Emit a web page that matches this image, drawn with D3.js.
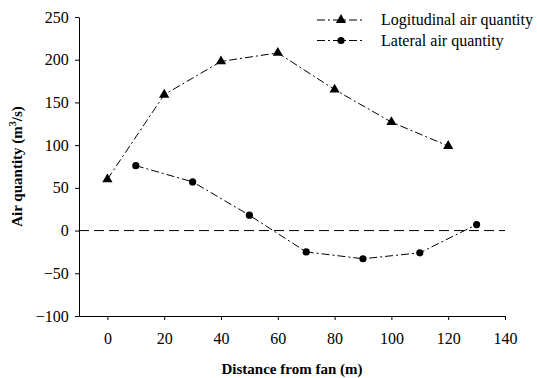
<!DOCTYPE html>
<html>
<head>
<meta charset="utf-8">
<script src="https://cdn.jsdelivr.net/npm/d3@7"></script>
<style>
  body { margin: 0; background: #fff; }
  svg text { font-family: "Times New Roman", "Liberation Serif", "DejaVu Serif", serif !important; fill: #000; }
</style>
</head>
<body>
<svg id="chart" width="537" height="378"></svg>
<script>
// data
var longX = [0, 20, 40, 60, 80, 100, 120];
var longY = [60, 159, 198, 208, 165, 127, 99];
var latX = [10, 30, 50, 70, 90, 110, 130];
var latY = [76, 57, 18, -25, -33, -26, 7];
var xTicks = [0, 20, 40, 60, 80, 100, 120, 140];
var yTicks = [-100, -50, 0, 50, 100, 150, 200, 250];
var seriesNames = ['Logitudinal air quantity', 'Lateral air quantity'];

var svg = d3.select('#chart');

var x = d3.scaleLinear().domain([-10, 140]).range([79, 505]);
var y = d3.scaleLinear().domain([-100, 250]).range([316, 17]);

var dashDot = '8,3,2,3';

// axes
var xAxis = svg.append('g')
  .attr('transform', 'translate(0,' + y(-100) + ')')
  .call(d3.axisBottom(x).tickValues(xTicks).tickSize(4).tickSizeOuter(0));
var yAxis = svg.append('g')
  .attr('transform', 'translate(' + x(-10) + ',0)')
  .call(d3.axisLeft(y).tickValues(yTicks).tickSize(4).tickSizeOuter(0));

[xAxis, yAxis].forEach(function (a) {
  a.attr('font-family', null).attr('font-size', null);
  a.selectAll('path, line').attr('stroke', '#000').attr('stroke-width', 1);
  a.selectAll('text').style('font-size', '16px');
});
xAxis.selectAll('text').attr('dy', '1.3em');
yAxis.selectAll('text').attr('dx', '-0.2em');

// zero reference line
svg.append('line')
  .attr('x1', x(-10)).attr('x2', x(140))
  .attr('y1', y(0)).attr('y2', y(0))
  .attr('stroke', '#000')
  .attr('stroke-dasharray', '10,5');

var line = d3.line()
  .x(function (d) { return x(d[0]); })
  .y(function (d) { return y(d[1]); });

var longData = d3.zip(longX, longY);
var latData = d3.zip(latX, latY);

svg.append('path').datum(longData)
  .attr('d', line)
  .attr('fill', 'none').attr('stroke', '#000')
  .attr('stroke-dasharray', dashDot);

svg.append('path').datum(latData)
  .attr('d', line)
  .attr('fill', 'none').attr('stroke', '#000')
  .attr('stroke-dasharray', dashDot);

var tri = d3.symbol().type(d3.symbolTriangle).size(45);

svg.append('g').selectAll('path')
  .data(longData)
  .enter()
  .append('path')
  .attr('d', tri)
  .attr('transform', function (d) {
    return 'translate(' + x(d[0]) + ',' + y(d[1]) + ')';
  });

svg.append('g').selectAll('circle')
  .data(latData)
  .enter()
  .append('circle')
  .attr('cx', function (d) { return x(d[0]); })
  .attr('cy', function (d) { return y(d[1]); })
  .attr('r', 3.6);

// legend
var legend = svg.append('g');
seriesNames.forEach(function (name, i) {
  var ly = 20 + i * 20.5;
  legend.append('line')
    .attr('x1', 317).attr('x2', 365)
    .attr('y1', ly).attr('y2', ly)
    .attr('stroke', '#000')
    .attr('stroke-dasharray', dashDot);
  if (i === 0) {
    legend.append('path').attr('d', tri)
      .attr('transform', 'translate(341,' + ly + ')');
  } else {
    legend.append('circle').attr('cx', 341).attr('cy', ly).attr('r', 3.6);
  }
  legend.append('text')
    .attr('x', 381).attr('y', ly + 5)
    .style('font-size', '16px')
    .text(name);
});

// axis titles
svg.append('text')
  .attr('x', (x(-10) + x(140)) / 2).attr('y', 374)
  .attr('text-anchor', 'middle')
  .style('font-size', '15px').style('font-weight', 'bold')
  .text('Distance from fan (m)');

var yt = svg.append('text')
  .attr('transform', 'translate(22,' + (y(-100) + y(250)) / 2 + ') rotate(-90)')
  .attr('text-anchor', 'middle')
  .style('font-size', '15px').style('font-weight', 'bold');
yt.append('tspan').text('Air quantity (m');
yt.append('tspan').attr('dy', -6).style('font-size', '10px').text('3');
yt.append('tspan').attr('dy', 6).text('/s)');
</script>
</body>
</html>
